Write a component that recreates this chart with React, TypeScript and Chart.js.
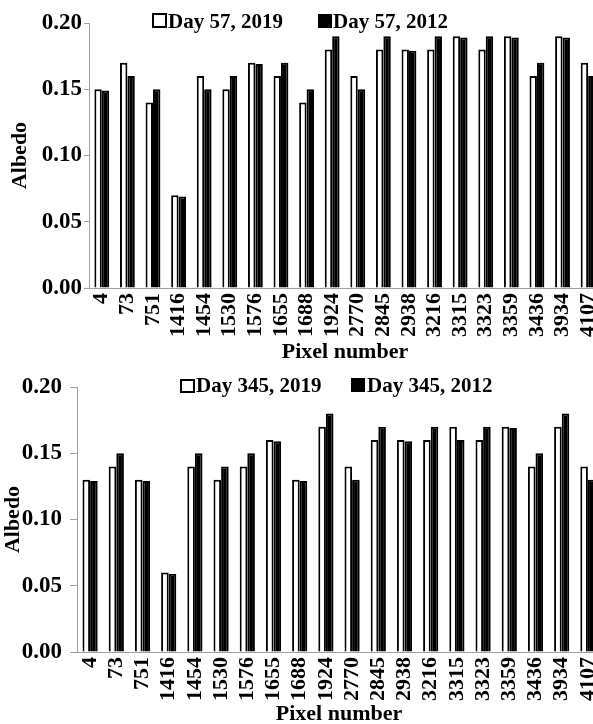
import React, { useEffect, useRef } from "react";
import { Chart, registerables } from "chart.js";
Chart.register(...registerables);

const pixelNumbers = ["4", "73", "751", "1416", "1454", "1530", "1576", "1655", "1688", "1924", "2770", "2845", "2938", "3216", "3315", "3323", "3359", "3436", "3934", "4107"];
const day57_2019 = [0.15, 0.17, 0.14, 0.07, 0.16, 0.15, 0.17, 0.16, 0.14, 0.18, 0.16, 0.18, 0.18, 0.18, 0.19, 0.18, 0.19, 0.16, 0.19, 0.17];
const day57_2012 = [0.149, 0.16, 0.15, 0.069, 0.15, 0.16, 0.169, 0.17, 0.15, 0.19, 0.15, 0.19, 0.179, 0.19, 0.189, 0.19, 0.189, 0.17, 0.189, 0.16];
const day345_2019 = [0.13, 0.14, 0.13, 0.06, 0.14, 0.13, 0.14, 0.16, 0.13, 0.17, 0.14, 0.16, 0.16, 0.16, 0.17, 0.16, 0.17, 0.14, 0.17, 0.14];
const day345_2012 = [0.129, 0.15, 0.129, 0.059, 0.15, 0.14, 0.15, 0.159, 0.129, 0.18, 0.13, 0.17, 0.159, 0.17, 0.16, 0.17, 0.169, 0.15, 0.18, 0.13];
const yTicks = [0, 0.05, 0.1, 0.15, 0.2];
const legend57 = ["Day 57, 2019", "Day 57, 2012"];
const legend345 = ["Day 345, 2019", "Day 345, 2012"];

const FONT = "'Liberation Serif', 'Times New Roman', serif";

type LegendPos = { box: [number, number, number, number]; tx: number; ty: number };

function makeLegendPlugin(pos: LegendPos[]) {
  return {
    id: "customLegend",
    afterDraw(chart: any) {
      const ctx = chart.ctx;
      ctx.save();
      ctx.font = `bold 21px ${FONT}`;
      ctx.textBaseline = "alphabetic";
      ctx.textAlign = "left";
      chart.data.datasets.forEach((ds: any, i: number) => {
        const p = pos[i];
        const [bx, by, bw, bh] = p.box;
        ctx.fillStyle = ds.backgroundColor;
        ctx.fillRect(bx, by, bw, bh);
        ctx.lineWidth = 2;
        ctx.strokeStyle = "#000";
        ctx.strokeRect(bx, by, bw, bh);
        ctx.fillStyle = "#000";
        ctx.fillText(ds.label, p.tx, p.ty);
      });
      ctx.restore();
    },
  };
}

type Geo = {
  height: number;
  top: number;
  bottom: number;
  left: number;
  tickLen: number;
  tickPad: number;
  yTitlePad: number;
  legend: LegendPos[];
};

function makeConfig(labels: string[], a: number[], b: number[], names: string[], g: Geo): any {
  return {
    type: "bar",
    data: {
      labels,
      datasets: [
        { label: names[0], data: a, backgroundColor: "#ffffff", borderColor: "#000000", borderWidth: 2, borderSkipped: "bottom", categoryPercentage: 0.58, barPercentage: 1.0 },
        { label: names[1], data: b, backgroundColor: "#000000", borderColor: "#000000", borderWidth: 2, borderSkipped: "bottom", categoryPercentage: 0.58, barPercentage: 1.0 },
      ],
    },
    options: {
      animation: false,
      responsive: false,
      devicePixelRatio: 1,
      layout: { padding: { top: g.top, right: 19, left: 0, bottom: 0 } },
      plugins: { legend: { display: false }, tooltip: { enabled: false } },
      scales: {
        x: {
          afterFit: (s: any) => { s.height = g.height - g.bottom; },
          grid: { display: true, drawOnChartArea: false, drawTicks: false, color: "#a0a0a0" },
          border: { display: true, color: "#a0a0a0", width: 1 },
          ticks: {
            autoSkip: false,
            minRotation: 90,
            maxRotation: 90,
            padding: 5,
            color: "#000",
            font: { family: FONT, size: 22, weight: "bold" },
          },
          title: {
            display: true,
            text: "Pixel number",
            color: "#000",
            padding: { top: 0, bottom: 0 },
            font: { family: FONT, size: 22, weight: "bold" },
          },
        },
        y: {
          min: 0,
          max: 0.2,
          afterFit: (s: any) => { s.width = g.left; },
          afterBuildTicks: (s: any) => { s.ticks = yTicks.map((v) => ({ value: v })); },
          grid: { display: true, drawOnChartArea: false, drawTicks: true, tickLength: g.tickLen, color: "#a0a0a0" },
          border: { display: true, color: "#a0a0a0", width: 1 },
          ticks: {
            padding: g.tickPad,
            color: "#000",
            font: { family: FONT, size: 23, weight: "bold" },
            callback: (v: any) => Number(v).toFixed(2),
          },
          title: {
            display: true,
            text: "Albedo",
            color: "#000",
            padding: { top: g.yTitlePad, bottom: 0 },
            font: { family: FONT, size: 22, weight: "bold" },
          },
        },
      },
    },
    plugins: [makeLegendPlugin(g.legend)],
  };
}

function BarPanel({ cfg, width, height, top }: { cfg: any; width: number; height: number; top: number }) {
  const ref = useRef<HTMLCanvasElement | null>(null);
  useEffect(() => {
    if (!ref.current) return;
    const chart = new Chart(ref.current, cfg);
    return () => chart.destroy();
  }, [cfg]);
  return (
    <canvas
      ref={ref}
      width={width}
      height={height}
      style={{ position: "absolute", left: 0, top, width, height }}
    />
  );
}

const topGeo: Geo = {
  height: 366,
  top: 23,
  bottom: 288,
  left: 89,
  tickLen: 5,
  tickPad: 2,
  yTitlePad: 7,
  legend: [
    { box: [153, 14, 13, 13], tx: 168, ty: 28 },
    { box: [319, 15, 12, 12], tx: 333, ty: 28 },
  ],
};

const bottomGeo: Geo = {
  height: 366,
  top: 25,
  bottom: 290,
  left: 77,
  tickLen: 7,
  tickPad: 8,
  yTitlePad: 0,
  legend: [
    { box: [181, 18, 13, 12], tx: 196, ty: 30 },
    { box: [352, 17, 12, 12], tx: 367, ty: 30 },
  ],
};

const cfgTop = makeConfig(pixelNumbers, day57_2019, day57_2012, legend57, topGeo);
const cfgBottom = makeConfig(pixelNumbers, day345_2019, day345_2012, legend345, bottomGeo);

export default function App() {
  return (
    <div style={{ position: "fixed", left: 0, top: 0, width: 593, height: 724, overflow: "hidden", background: "#fff" }}>
      <BarPanel cfg={cfgTop} width={620} height={366} top={0} />
      <BarPanel cfg={cfgBottom} width={620} height={366} top={362} />
    </div>
  );
}
